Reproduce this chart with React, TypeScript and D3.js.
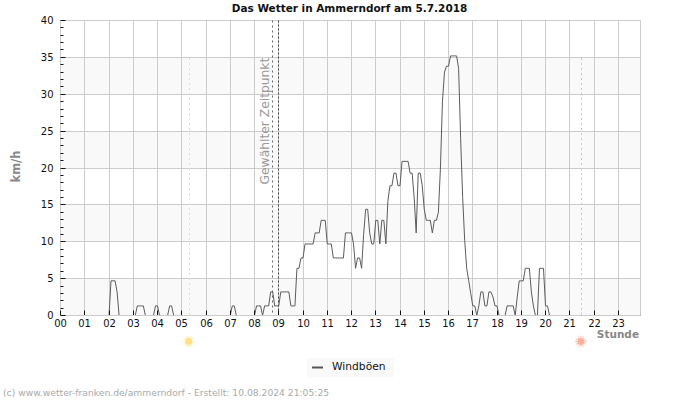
import * as d3 from "d3";

const WIDTH = 700;
const HEIGHT = 400;
const PLOT = { left: 60.5, right: 640.5, top: 20.5, bottom: 315.5 };

const FONT = "'DejaVu Sans', sans-serif";

// Gusts in km/h, one reading every five minutes, one row per hour.
const GUST_KMH = [
  0, 0, 0, 0, 0, 0, 0, 0, 0, 0, 0, 0,
  0, 0, 0, 0, 0, 0, 0, 0, 0, 0, 0, 0,
  0, 4.7, 4.7, 4.7, 3.2, 0, 0, 0, 0, 0, 0, 0,
  0, 0, 1.3, 1.3, 1.3, 1.3, 0, 0, 0, 0, 0, 1.3,
  1.3, 0, 0, 0, 0, 0, 1.3, 1.3, 0, 0, 0, 0,
  0, 0, 0, 0, 0, 0, 0, 0, 0, 0, 0, 0,
  0, 0, 0, 0, 0, 0, 0, 0, 0, 0, 0, 0,
  0, 1.3, 1.3, 0, 0, 0, 0, 0, 0, 0, 0, 0,
  0, 1.3, 1.3, 1.3, 0, 1.3, 1.3, 1.3, 3.2, 3.2, 1.3, 1.3,
  1.3, 3.2, 3.2, 3.2, 3.2, 3.2, 1.3, 1.3, 1.3, 6.4, 6.4, 7.8,
  7.8, 9.7, 9.7, 9.7, 9.7, 9.7, 11.2, 11.2, 11.2, 12.9, 12.9, 12.9,
  9.7, 9.7, 9.7, 7.8, 7.8, 7.8, 7.8, 7.8, 7.8, 11.2, 11.2, 11.2,
  11.2, 9.7, 6.4, 7.8, 7.8, 6.4, 11, 14.4, 14.4, 11.2, 9.7, 9.7,
  12.9, 12.9, 9.7, 12.9, 12.9, 9.7, 15.5, 17.6, 17.6, 19.3, 19.3, 17.6,
  17.6, 20.9, 20.9, 20.9, 20.9, 19.3, 19.3, 16, 11.2, 19.3, 19.3, 17.6,
  14.4, 12.9, 12.9, 12.9, 11.2, 12.9, 12.9, 14, 20, 29, 33, 33.8,
  33.8, 35.2, 35.2, 35.2, 35.2, 33.5, 24, 16, 10.2, 6.4, 4.7, 3,
  1.3, 1.3, 0, 1.3, 3.2, 3.2, 1.3, 1.3, 3.2, 3.2, 2.5, 1.3,
  1.3, 0, 0, 0, 0, 1.3, 1.3, 1.3, 1.3, 0, 2.5, 4.7,
  4.7, 4.7, 6.4, 6.4, 6.4, 3.2, 1.3, 0, 0, 6.4, 6.4, 6.4,
  1.3, 1.3, 0, 0, 0, 0, 0, 0, 0, 0, 0, 0,
  0, 0, 0, 0, 0, 0, 0, 0, 0, 0, 0, 0,
  0, 0, 0, 0, 0, 0, 0, 0, 0, 0, 0, 0,
  0, 0, 0, 0, 0, 0, 0, 0, 0, 0, 0, 0,
];

const HOUR_LABELS = d3.range(24).map((h) => String(h).padStart(2, "0"));
const Y_LABELS = [0, 5, 10, 15, 20, 25, 30, 35, 40];
const Y_MINOR = d3.range(0, 41).filter((v) => v % 5 !== 0);
const BANDS: [number, number][] = [[0, 5], [10, 15], [20, 25], [30, 35]];

// Positions on the time axis, in hours of the day.
const SUNRISE_H = 5.33;
const SUNSET_H = 21.5;
const SELECTED_H = [8.75, 9];

const x = d3.scaleLinear().domain([0, 287]).range([PLOT.left, PLOT.right]);
const y = d3.scaleLinear().domain([0, 40]).range([PLOT.bottom, PLOT.top]);
const xHour = (h: number) => Math.floor(x(h * 12)) + 0.5;
const yCrisp = (v: number) => Math.floor(y(v)) + 0.5;

const gustLine = d3
  .line<number>()
  .x((_, i) => x(i))
  .y((d) => y(d));

/** Small sun marker below the axis for sunrise and sunset. */
function Sun({ cx, cy, fill }: { cx: number; cy: number; fill: string }) {
  return (
    <g stroke={fill} strokeWidth={1}>
      {d3.range(12).map((k) => {
        const a = (k * Math.PI) / 6;
        return (
          <line
            key={k}
            x1={cx + 3 * Math.cos(a)}
            y1={cy + 3 * Math.sin(a)}
            x2={cx + 6 * Math.cos(a)}
            y2={cy + 6 * Math.sin(a)}
            opacity={0.7}
          />
        );
      })}
      <circle cx={cx} cy={cy} r={3.4} fill={fill} stroke="none" />
    </g>
  );
}

export default function App() {
  return (
    <svg
      width={WIDTH}
      height={HEIGHT}
      viewBox={`0 0 ${WIDTH} ${HEIGHT}`}
      style={{ position: "absolute", left: 0, top: 0, background: "#fff" }}
      fontFamily={FONT}
    >
      <text x={349.5} y={12} textAnchor="middle" fontSize={10.47} fontWeight="bold" fill="#111">
        Das Wetter in Ammerndorf am 5.7.2018
      </text>

      {BANDS.map(([a, b]) => (
        <rect
          key={a}
          x={PLOT.left}
          width={PLOT.right - PLOT.left}
          y={yCrisp(b)}
          height={yCrisp(a) - yCrisp(b)}
          fill="#f9f9f9"
        />
      ))}

      <g stroke="#cccccc" strokeWidth={1}>
        {HOUR_LABELS.map((_, h) => (
          <line key={h} x1={xHour(h)} x2={xHour(h)} y1={PLOT.top} y2={PLOT.bottom} />
        ))}
        <line x1={PLOT.right} x2={PLOT.right} y1={PLOT.top} y2={PLOT.bottom} />
        {Y_LABELS.map((v) => (
          <line key={v} x1={PLOT.left} x2={PLOT.right} y1={yCrisp(v)} y2={yCrisp(v)} />
        ))}
      </g>

      {/* Sunrise, sunset and the two lines of the selected time */}
      <line x1={189.5} x2={189.5} y1={58} y2={PLOT.bottom} stroke="#f2e37a" strokeDasharray="2 3" />
      <line x1={581.5} x2={581.5} y1={58} y2={PLOT.bottom} stroke="#efc37a" strokeDasharray="2 3" />
      <line x1={272.5} x2={272.5} y1={PLOT.top} y2={PLOT.bottom} stroke="#666" strokeDasharray="2 3" />
      <line
        x1={xHour(SELECTED_H[1])}
        x2={xHour(SELECTED_H[1])}
        y1={PLOT.top}
        y2={PLOT.bottom}
        stroke="#444"
        strokeDasharray="2 2"
      />
      <text transform="translate(269,184.5) rotate(-90)" fontSize={12.3} fill="#999">
        Gewählter Zeitpunkt
      </text>

      <path d={gustLine(GUST_KMH) ?? ""} fill="none" stroke="#5c5c5c" strokeWidth={1} />

      {/* Base line over the zero readings, then the inward ticks */}
      <line x1={PLOT.left} x2={PLOT.right} y1={PLOT.bottom} y2={PLOT.bottom} stroke="#cccccc" />
      <g stroke="#111" strokeWidth={1}>
        {HOUR_LABELS.map((_, h) => (
          <line key={h} x1={xHour(h)} x2={xHour(h)} y1={PLOT.bottom - 5} y2={PLOT.bottom - 0.5} />
        ))}
        {Y_LABELS.map((v) => (
          <line key={v} x1={PLOT.left} x2={PLOT.left + 5} y1={yCrisp(v)} y2={yCrisp(v)} />
        ))}
        {Y_MINOR.map((v) => (
          <line key={v} x1={PLOT.left} x2={PLOT.left + 3} y1={yCrisp(v)} y2={yCrisp(v)} />
        ))}
      </g>

      <g fontSize={10} fill="#111">
        {HOUR_LABELS.map((label, h) => (
          <text key={label} x={xHour(h)} y={327} textAnchor="middle">
            {label}
          </text>
        ))}
        {Y_LABELS.map((v) => (
          <text key={v} x={53.5} y={yCrisp(v) + 3} textAnchor="end">
            {v}
          </text>
        ))}
      </g>

      <text
        transform="translate(19.5,166.5) rotate(-90)"
        textAnchor="middle"
        fontSize={11.5}
        fontWeight="bold"
        fill="#888"
      >
        km/h
      </text>
      <text x={639} y={338} textAnchor="end" fontSize={10.5} fontWeight="bold" fill="#888">
        Stunde
      </text>

      <Sun cx={x(SUNRISE_H * 12) - 1} cy={341.5} fill="#ffe08a" />
      <Sun cx={x(SUNSET_H * 12) - 1} cy={341.5} fill="#ffb09a" />

      <rect x={307} y={358} width={87} height={19} fill="#f9f9f9" />
      <line x1={312} x2={323} y1={367.5} y2={367.5} stroke="#555" strokeWidth={2} />
      <text x={332} y={370} fontSize={10.7} fill="#111">
        Windböen
      </text>

      <text x={3} y={396} fontSize={9.2} fill="#aaa">
        (c) www.wetter-franken.de/ammerndorf - Erstellt: 10.08.2024 21:05:25
      </text>
    </svg>
  );
}
